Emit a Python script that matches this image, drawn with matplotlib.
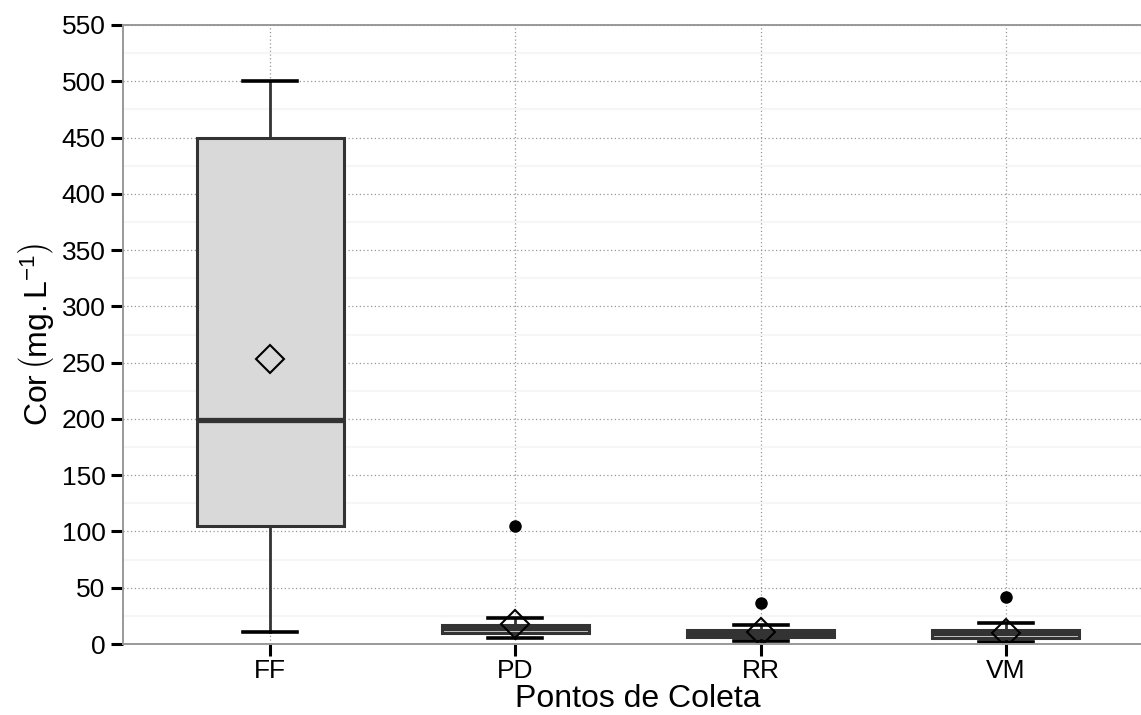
import matplotlib
matplotlib.use("Agg")
import matplotlib.pyplot as plt
from matplotlib.ticker import MultipleLocator

plt.rcParams["font.family"] = ["Liberation Sans", "DejaVu Sans"]
plt.rcParams["mathtext.fontset"] = "custom"
plt.rcParams["mathtext.rm"] = "Liberation Sans"
plt.rcParams["mathtext.it"] = "Liberation Sans:italic"

# box statistics (mg/L)
sites   = ["FF", "PD", "RR", "VM"]
q1      = [105, 10, 6, 5.5]
median  = [199, 14, 10, 9.5]
q3      = [450, 17, 12.5, 12]
whislo  = [11, 5, 2.5, 2]
whishi  = [500, 23.5, 17, 19]
means   = [253, 17.5, 10.5, 10]
outliers = [[], [105], [36], [42]]

stats = []
for i, s in enumerate(sites):
    stats.append(dict(label=s, q1=q1[i], med=median[i], q3=q3[i],
                      whislo=whislo[i], whishi=whishi[i],
                      mean=means[i], fliers=outliers[i]))

fig = plt.figure(figsize=(11.41, 7.15), dpi=100)
ax = fig.add_axes([123 / 1141, 71 / 715, 1030 / 1141, 619 / 715])

positions = list(range(1, len(sites) + 1))
ax.bxp(stats, positions=positions, widths=0.6, patch_artist=True,
       showmeans=True, showfliers=True,
       boxprops=dict(facecolor="#d9d9d9", edgecolor="#333333", linewidth=2.2),
       medianprops=dict(color="#333333", linewidth=3.8),
       whiskerprops=dict(color="#333333", linewidth=2.0),
       capprops=dict(color="black", linewidth=2.6),
       capwidths=0.22,
       meanprops=dict(marker="D", markerfacecolor="none",
                      markeredgecolor="black", markersize=14,
                      markeredgewidth=1.5),
       flierprops=dict(marker="o", markerfacecolor="black",
                       markeredgecolor="black", markersize=8))

ax.set_xlim(0.4, 4.6)
ax.set_ylim(0, 550)
ax.yaxis.set_major_locator(MultipleLocator(50))
ax.yaxis.set_minor_locator(MultipleLocator(25))
ax.set_xticks(positions)
ax.set_xticklabels(sites)

ax.grid(True, which="major", linestyle=(0, (1, 2)), color="#999999",
        linewidth=0.9)
ax.grid(True, which="minor", axis="y", linestyle="-", color="#f6f6f6",
        linewidth=1.6)
ax.set_axisbelow(True)

for sp in ax.spines.values():
    sp.set_color("#999999")
    sp.set_linewidth(1.4)

ax.tick_params(axis="both", which="major", length=8.5, width=2.2,
               color="black", labelsize=19, labelcolor="black", pad=4)
ax.tick_params(axis="x", which="major", pad=2)
ax.tick_params(axis="y", which="minor", length=0)

ax.set_xlabel("Pontos de Coleta", fontsize=23, labelpad=1)
ax.set_ylabel(r"Cor$\,\left(\mathrm{mg.L^{-1}}\right)$", fontsize=23,
              labelpad=4)

fig.savefig("out.png", dpi=100)
